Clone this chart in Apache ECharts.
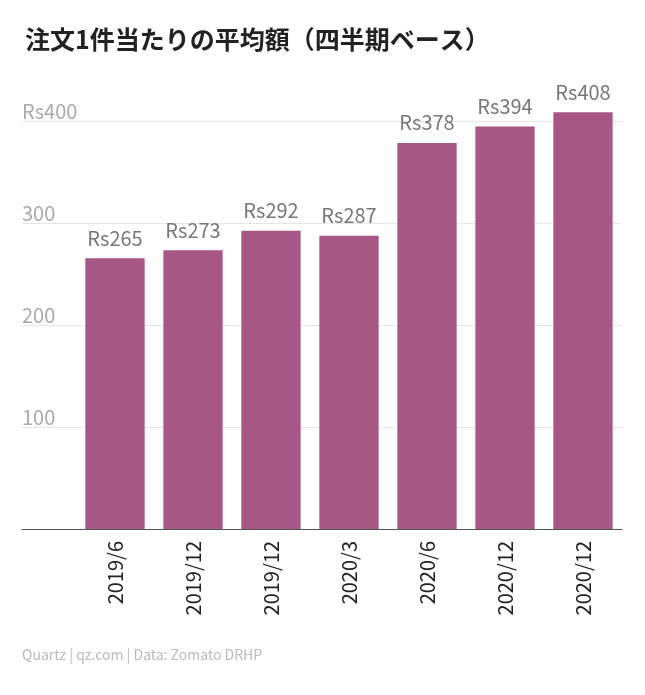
<!DOCTYPE html>
<html><head><meta charset="utf-8">
<script src="https://cdn.jsdelivr.net/npm/echarts@6/dist/echarts.min.js"></script>
<style>body{margin:0;background:#fff}#c{width:645px;height:695px}</style>
</head><body><div id="c"></div>
<script>
var categories = ['2019/6', '2019/12', '2019/12', '2020/3', '2020/6', '2020/12', '2020/12'];
var values = [265, 273, 292, 287, 378, 394, 408];
var yTicks = [0, 100, 200, 300, 400];

var chart = echarts.init(document.getElementById('c'));
var font = '"Noto Sans CJK JP", "Noto Sans", sans-serif';
chart.setOption({
    animation: false,
    textStyle: { fontFamily: font },
    title: {
        text: '注文1件当たりの平均額（四半期ベース）',
        left: 20, top: 22,
        textStyle: { fontSize: 25, fontWeight: 'bold', color: '#222', fontFamily: font }
    },
    graphic: [{
        type: 'text', left: 22, top: 648,
        style: { text: 'Quartz | qz.com | Data: Zomato DRHP', fill: '#bbb', font: '14px ' + font }
    }],
    grid: [
        { left: 22, right: 23, top: 121, bottom: 166 },
        { left: 76, right: 23, top: 100, bottom: 166 }
    ],
    xAxis: [
        { gridIndex: 0, type: 'category', data: [''], axisLine: { lineStyle: { color: '#555' } },
          axisTick: { show: false }, axisLabel: { show: false } },
        { gridIndex: 1, type: 'category', data: categories, axisLine: { show: false },
          axisTick: { show: false },
          axisLabel: { rotate: 90, fontSize: 20, color: '#222', margin: 12 } }
    ],
    yAxis: [
        { gridIndex: 0, type: 'value', min: 0, max: 400, interval: 100,
          axisLine: { show: false }, axisTick: { show: false },
          splitLine: { lineStyle: { color: '#e6e6e6' } },
          axisLabel: {
              inside: true, verticalAlign: 'bottom', margin: 0, fontSize: 20, color: '#aaa',
              formatter: function (v) {
                  if (v === 0 || yTicks.indexOf(v) < 0) return '';
                  return v === 400 ? 'Rs400' : String(v);
              }
          } },
        { gridIndex: 1, type: 'value', min: 0, max: 420, show: false, splitLine: { show: false } }
    ],
    series: [{
        type: 'bar', xAxisIndex: 1, yAxisIndex: 1, data: values,
        barCategoryGap: '24%',
        itemStyle: { color: '#a65785' },
        label: { show: true, position: 'top', distance: 10, fontSize: 20, color: '#777',
                 formatter: function (p) { return 'Rs' + p.value; } }
    }]
});
</script></body></html>
